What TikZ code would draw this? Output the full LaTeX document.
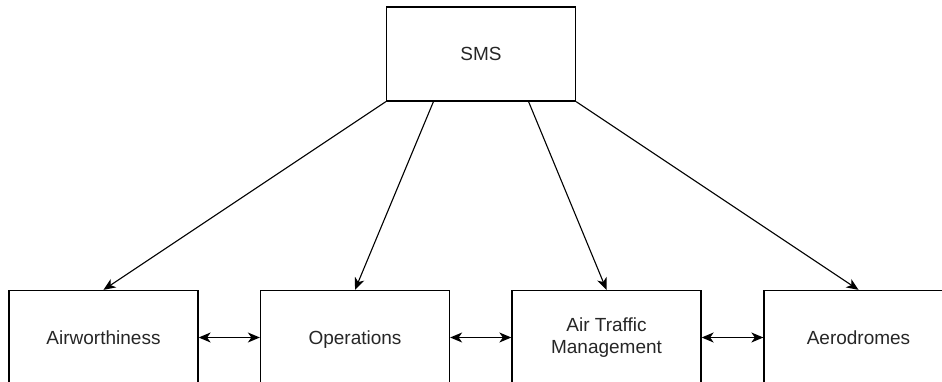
\documentclass[tikz,border=0pt]{standalone}
\usepackage{fontspec}
\setmainfont{Liberation Sans}
\usetikzlibrary{arrows.meta,calc}
\begin{document}
\begin{tikzpicture}[x=1pt,y=-1pt,
  blk/.style={draw=black, line width=1.3pt, minimum width=189pt, minimum height=94pt,
    inner sep=0pt, align=center, font=\fontsize{19}{22}\selectfont, text=black!85},
  oneline/.style={text height=13.6pt, text depth=0pt},
  tip/.tip={Stealth[length=12pt,width=10pt,inset=3.5pt]},
  link/.style={line width=1.1pt, -tip},
  dlink/.style={line width=1.2pt, tip-tip}]
\useasboundingbox (0,0) rectangle (942,382);
\clip (0,0) rectangle (942,382);
\node[blk,oneline] (sms) at (481,54) {SMS};
\node[blk,oneline] (air) at (103.5,337.5) {Airworthiness};
\node[blk,oneline] (ops) at (355,337.5) {Operations};
\node[blk] (atm) at (606.5,337.5) {Air Traffic\\Management};
\node[blk,oneline] (aero) at (858.5,337.5) {Aerodromes};
% spokes from the safety management system to each domain
\draw[link] (sms.south west) -- (air.north);
\draw[link] ($(sms.south west)!0.25!(sms.south east)$) -- (ops.north);
\draw[link] ($(sms.south west)!0.75!(sms.south east)$) -- (atm.north);
\draw[link] (sms.south east) -- (aero.north);
% links between neighbouring domains
\draw[dlink] (air.east) -- (ops.west);
\draw[dlink] (ops.east) -- (atm.west);
\draw[dlink] (atm.east) -- (aero.west);
\end{tikzpicture}
\end{document}
